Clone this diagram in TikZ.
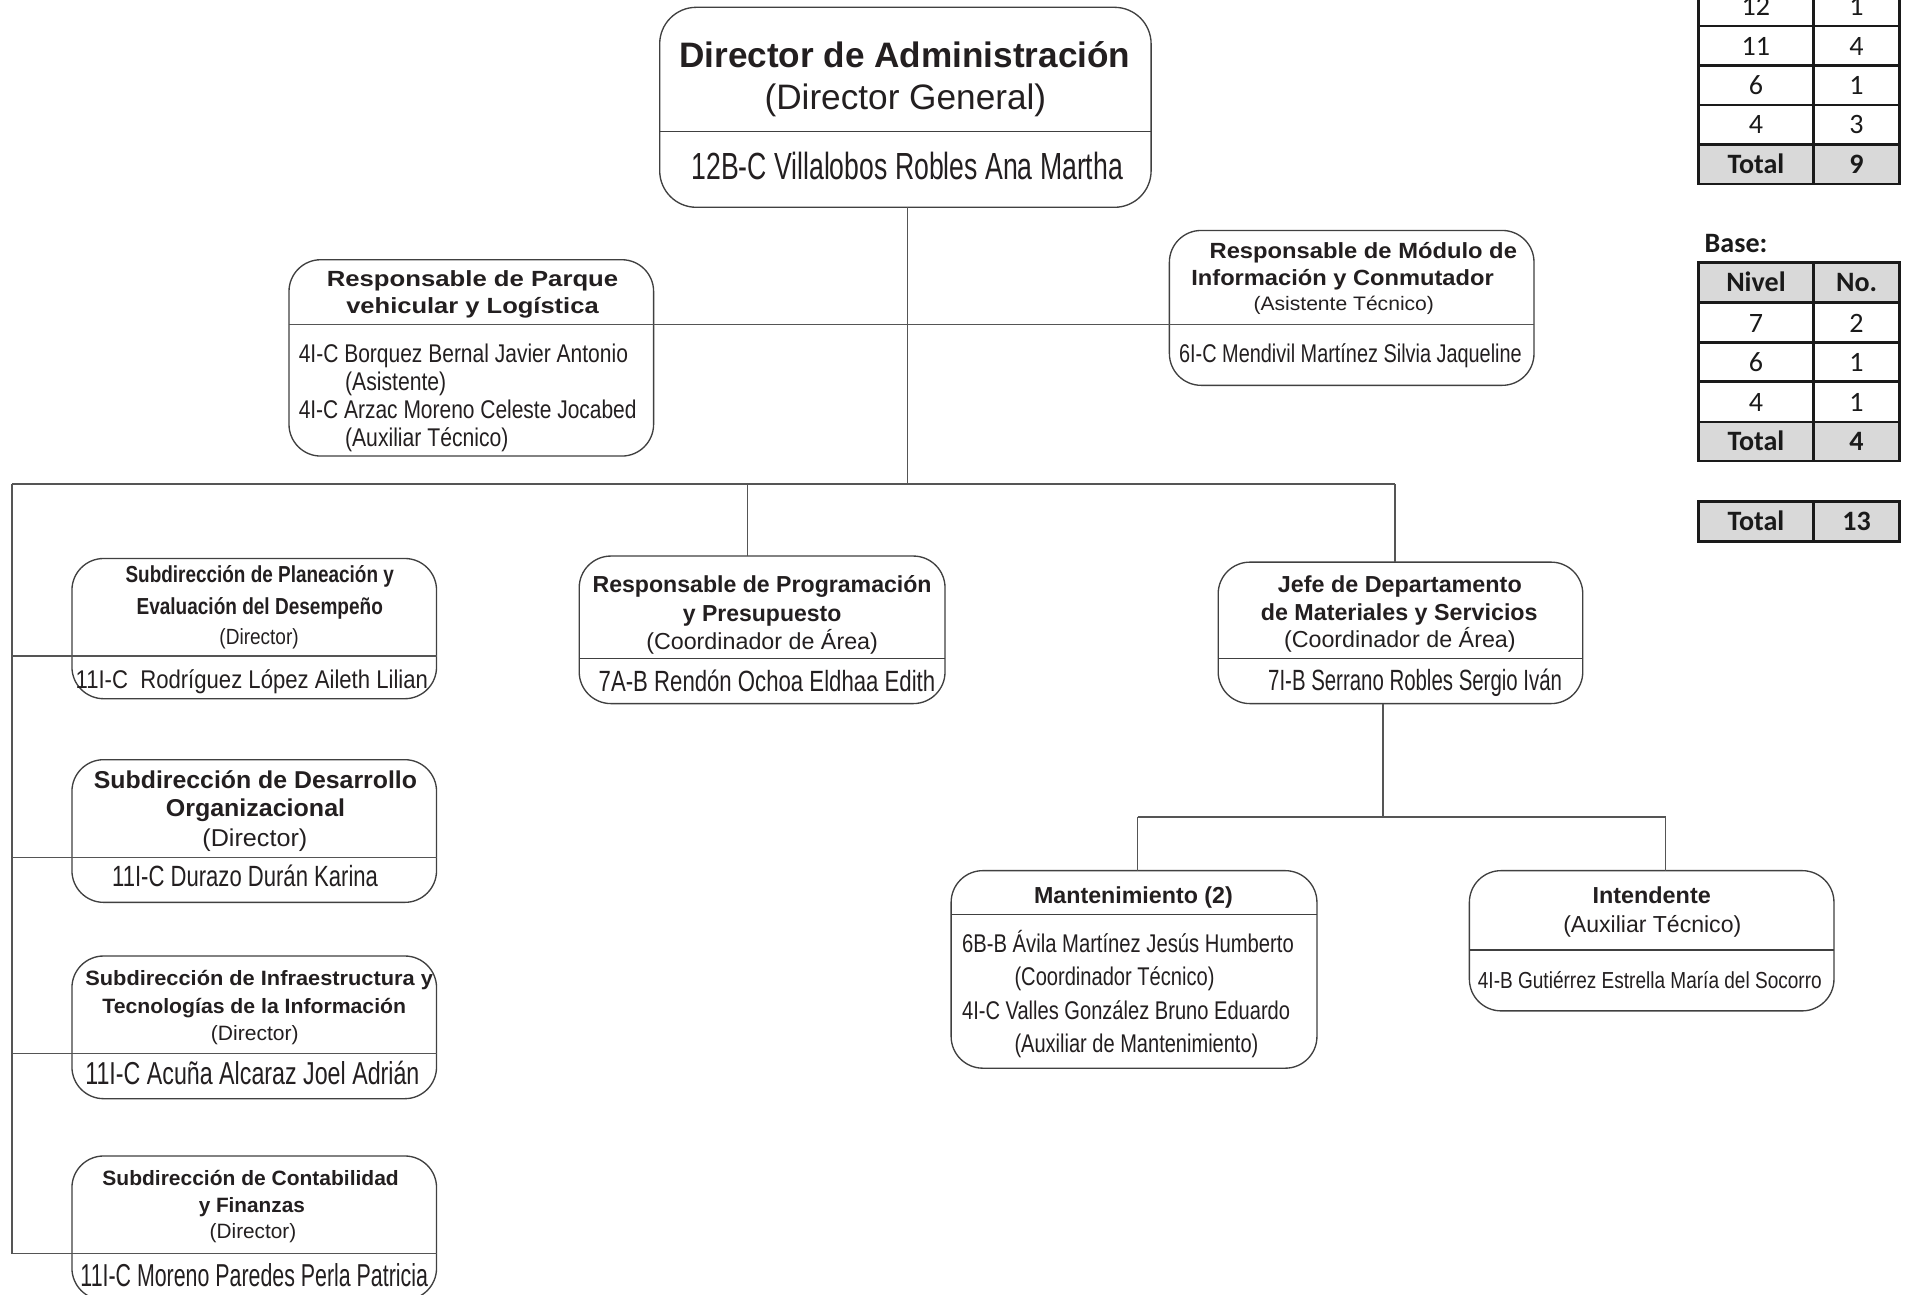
\documentclass[tikz,border=0pt]{standalone}
\usepackage{fontspec}
\usepackage{graphicx}
\setmainfont{Liberation Sans}
\newfontfamily\tabfont{Carlito}
\definecolor{ink}{HTML}{231F20}
\definecolor{edge}{HTML}{404040}
\definecolor{wire}{HTML}{555555}
\definecolor{cellgray}{HTML}{D9D9D9}
\definecolor{tline}{HTML}{1A1A1A}
\newcommand{\Treg}[3]{{\fontsize{#1}{#1}\selectfont\resizebox{#2pt}{\height}{#3}}}
\newcommand{\Tbold}[3]{{\fontsize{#1}{#1}\selectfont\bfseries\resizebox{#2pt}{\height}{#3}}}
\newcommand{\Ttab}[2]{{\tabfont\fontsize{23}{23}\selectfont #1#2}}
\begin{document}
\begin{tikzpicture}[x=1pt,y=-1pt,
  box/.style={draw=edge,line width=1.1pt,rounded corners=26pt,inner sep=0pt,outer sep=0pt},
  conn/.style={draw=wire,line width=1.2pt},
  divl/.style={draw=edge,line width=1.1pt},
  txt/.style={inner sep=0pt,outer sep=0pt,text=ink},
  tbl/.style={draw=tline,line width=2.2pt},
  cell/.style={inner sep=0pt,outer sep=0pt,text=tline,anchor=base}]
\path[use as bounding box] (0,0) rectangle (1568,1062);
\clip (0,0) rectangle (1568,1062);
\fill[white] (0,0) rectangle (1568,1062);

% ---------- boxes ----------
\node[box,rounded corners=30pt,minimum width=403pt,minimum height=164pt] (dir) at (742.5,88) {};
\node[box,minimum width=299pt,minimum height=161pt] (park) at (386.5,293.5) {};
\node[box,minimum width=299pt,minimum height=127pt] (mod) at (1108.5,252.5) {};
\node[box,minimum width=299pt,minimum height=115pt] (plan) at (208.5,515.5) {};
\node[box,minimum width=299pt,minimum height=117pt] (desa) at (208.5,681.5) {};
\node[box,minimum width=299pt,minimum height=117pt] (infra) at (208.5,842.5) {};
\node[box,minimum width=299pt,minimum height=118pt] (cont) at (208.5,1007) {};
\node[box,minimum width=300pt,minimum height=121pt] (prog) at (625,516.5) {};
\node[box,minimum width=299pt,minimum height=116pt] (jefe) at (1148.5,519) {};
\node[box,minimum width=300pt,minimum height=162pt] (mant) at (930,795) {};
\node[box,minimum width=299pt,minimum height=115pt] (int) at (1354.5,771.5) {};

% ---------- dividers ----------
\draw[divl] (dir.west |- 0,108) -- (dir.east |- 0,108);
\draw[divl] (prog.west |- 0,540) -- (prog.east |- 0,540);
\draw[divl] (jefe.west |- 0,540) -- (jefe.east |- 0,540);
\draw[divl] (mant.west |- 0,750) -- (mant.east |- 0,750);
\draw[divl] (int.west |- 0,779) -- (int.east |- 0,779);

% ---------- connectors ----------
\coordinate (hmid) at (744,266.3);
\coordinate (busL) at (10,397);
\coordinate (busP) at (613,397);
\coordinate (busC) at (744,397);
\coordinate (busR) at (1144,397);
\coordinate (jdown) at (1134,670);
\coordinate (subL) at (933,670);
\coordinate (subR) at (1366,670);
\draw[conn] (dir.south -| busC) -- (busC);
\draw[conn] (park.west |- hmid) -- (mod.east |- hmid);
\draw[conn] (busL) -- (busR);
\draw[conn] (busL) -- (busL |- 0,1028);
\draw[conn] (busL |- 0,538) -- (plan.east |- 0,538);
\draw[conn] (busL |- 0,703) -- (desa.east |- 0,703);
\draw[conn] (busL |- 0,864) -- (infra.east |- 0,864);
\draw[conn] (busL |- 0,1028) -- (cont.east |- 0,1028);
\draw[conn] (busP) -- (busP |- prog.north);
\draw[conn] (busR) -- (busR |- jefe.north);
\draw[conn] (jefe.south -| jdown) -- (jdown);
\draw[conn] (subL) -- (subR);
\draw[conn] (subL) -- (subL |- mant.north);
\draw[conn] (subR) -- (subR |- int.north);

% ---------- texts ----------
% Director
\node[txt,anchor=base] (d1) at (742,55) {\Tbold{29}{370}{Director de Administración}};
\node[txt,anchor=base] (d2) at (742.5,90) {\Treg{29}{231}{(Director General)}};
\node[txt,anchor=base] (d3) at (744,147) {\Treg{31}{354}{12B-C Villalobos Robles Ana Martha}};
% Parque
\node[txt,anchor=base] (p1) at (387.5,235) {\Tbold{18}{239}{Responsable de Parque}};
\node[txt,anchor=base] (p2) at (387.5,257) {\Tbold{18}{207}{vehicular y Logística}};
\node[txt,anchor=base west] (p3) at (245,297) {\Treg{21}{270}{4I-C Borquez Bernal Javier Antonio}};
\node[txt,anchor=base west] (p4) at (283,320) {\Treg{21}{83}{(Asistente)}};
\node[txt,anchor=base west] (p5) at (245,343) {\Treg{21}{277}{4I-C Arzac Moreno Celeste Jocabed}};
\node[txt,anchor=base west] (p6) at (283,366) {\Treg{21}{134}{(Auxiliar Técnico)}};
% Modulo
\node[txt,anchor=base] (m1) at (1118,212) {\Tbold{18}{252}{Responsable de Módulo de}};
\node[txt,anchor=base] (m2) at (1101,234) {\Tbold{18}{248}{Información y Conmutador}};
\node[txt,anchor=base] (m3) at (1102,255) {\Treg{16}{148}{(Asistente Técnico)}};
\node[txt,anchor=base] (m4) at (1107.5,297) {\Treg{21}{281}{6I-C Mendivil Martínez Silvia Jaqueline}};
% Planeacion
\node[txt,anchor=base] (pl1) at (213,478) {\Tbold{19}{220}{Subdirección de Planeación y}};
\node[txt,anchor=base] (pl2) at (213,504) {\Tbold{19}{202}{Evaluación del Desempeño}};
\node[txt,anchor=base] (pl3) at (212.5,528.5) {\Treg{18}{65}{(Director)}};
\node[txt,anchor=base] (pl4) at (206.5,565) {\Treg{21}{289}{11I-C\ \ Rodríguez López Aileth Lilian}};
% Desarrollo
\node[txt,anchor=base] (de1) at (209.5,647) {\Tbold{20}{265}{Subdirección de Desarrollo}};
\node[txt,anchor=base] (de2) at (209.5,670) {\Tbold{20}{147}{Organizacional}};
\node[txt,anchor=base] (de3) at (209,694) {\Treg{20}{86}{(Director)}};
\node[txt,anchor=base] (de4) at (201,727) {\Treg{24}{218}{11I-C Durazo Durán Karina}};
% Infraestructura
\node[txt,anchor=base] (in1) at (212.5,808) {\Tbold{17}{285}{Subdirección de Infraestructura y}};
\node[txt,anchor=base] (in2) at (208.5,831) {\Tbold{17}{249}{Tecnologías de la Información}};
\node[txt,anchor=base] (in3) at (209,853) {\Treg{17}{72}{(Director)}};
\node[txt,anchor=base] (in4) at (207,889) {\Treg{26}{274}{11I-C Acuña Alcaraz Joel Adrián}};
% Contabilidad
\node[txt,anchor=base] (co1) at (205.5,972) {\Tbold{17}{243}{Subdirección de Contabilidad}};
\node[txt,anchor=base] (co2) at (206.5,994) {\Tbold{17}{87}{y Finanzas}};
\node[txt,anchor=base] (co3) at (207.5,1016) {\Treg{17}{71}{(Director)}};
\node[txt,anchor=base] (co4) at (208.5,1055) {\Treg{26}{285}{11I-C Moreno Paredes Perla Patricia}};
% Programacion
\node[txt,anchor=base] (pr1) at (625,486) {\Tbold{19}{278}{Responsable de Programación}};
\node[txt,anchor=base] (pr2) at (625,510) {\Tbold{19}{130}{y Presupuesto}};
\node[txt,anchor=base] (pr3) at (625,533) {\Treg{19}{190}{(Coordinador de Área)}};
\node[txt,anchor=base] (pr4) at (629,567) {\Treg{24}{276}{7A-B Rendón Ochoa Eldhaa Edith}};
% Jefe
\node[txt,anchor=base] (j1) at (1148,486) {\Tbold{19}{200}{Jefe de Departamento}};
\node[txt,anchor=base] (j2) at (1147.5,509) {\Tbold{19}{227}{de Materiales y Servicios}};
\node[txt,anchor=base] (j3) at (1148,531) {\Treg{19}{190}{(Coordinador de Área)}};
\node[txt,anchor=base] (j4) at (1160.5,566) {\Treg{24}{241}{7I-B Serrano Robles Sergio Iván}};
% Mantenimiento
\node[txt,anchor=base] (mt1) at (929.5,741) {\Tbold{19}{163}{Mantenimiento (2)}};
\node[txt,anchor=base west] (mt2) at (789,781) {\Treg{21}{272}{6B-B Ávila Martínez Jesús Humberto}};
\node[txt,anchor=base west] (mt3) at (832,808) {\Treg{21}{164}{(Coordinador Técnico)}};
\node[txt,anchor=base west] (mt4) at (789,836) {\Treg{21}{269}{4I-C Valles González Bruno Eduardo}};
\node[txt,anchor=base west] (mt5) at (832,863) {\Treg{21}{200}{(Auxiliar de Mantenimiento)}};
% Intendente
\node[txt,anchor=base] (it1) at (1354.5,741) {\Tbold{19}{97}{Intendente}};
\node[txt,anchor=base] (it2) at (1355,765) {\Treg{19}{146}{(Auxiliar Técnico)}};
\node[txt,anchor=base] (it3) at (1353,811) {\Treg{19}{282}{4I-B Gutiérrez Estrella María del Socorro}};

% ---------- tables ----------
% top table
\fill[cellgray] (1393,118.6) rectangle (1558,151);
\draw[tbl] (1393,-11) rectangle (1558,151);
\draw[tbl] (1393,21.4) -- (1558,21.4) (1393,53.8) -- (1558,53.8)
  (1393,86.2) -- (1558,86.2) (1393,118.6) -- (1558,118.6) (1487,-11) -- (1487,151);
\node[cell] (a1) at (1440,12.4) {\Ttab{}{12}};
\node[cell] (a2) at (1522.5,12.4) {\Ttab{}{1}};
\node[cell] (b1) at (1440,45.4) {\Ttab{}{11}};
\node[cell] (b2) at (1522.5,45.4) {\Ttab{}{4}};
\node[cell] (c1) at (1440,77.4) {\Ttab{}{6}};
\node[cell] (c2) at (1522.5,77.4) {\Ttab{}{1}};
\node[cell] (e1) at (1440,109.4) {\Ttab{}{4}};
\node[cell] (e2) at (1522.5,109.4) {\Ttab{}{3}};
\node[cell] (f1) at (1440,142.4) {\Ttab{\bfseries}{Total}};
\node[cell] (f2) at (1522.5,142.4) {\Ttab{\bfseries}{9}};
% Base
\node[cell,anchor=base west] (base) at (1398,207.4) {\Ttab{\bfseries}{Base:}};
\fill[cellgray] (1393,215) rectangle (1558,248);
\fill[cellgray] (1393,346) rectangle (1558,378);
\draw[tbl] (1393,215) rectangle (1558,378);
\draw[tbl] (1393,248) -- (1558,248) (1393,281) -- (1558,281)
  (1393,313) -- (1558,313) (1393,346) -- (1558,346) (1487,215) -- (1487,378);
\node[cell] (g1) at (1440,239.4) {\Ttab{\bfseries}{Nivel}};
\node[cell] (g2) at (1522.5,239.4) {\Ttab{\bfseries}{No.}};
\node[cell] (h1) at (1440,272.4) {\Ttab{}{7}};
\node[cell] (h2) at (1522.5,272.4) {\Ttab{}{2}};
\node[cell] (k1) at (1440,304.4) {\Ttab{}{6}};
\node[cell] (k2) at (1522.5,304.4) {\Ttab{}{1}};
\node[cell] (l1) at (1440,337.4) {\Ttab{}{4}};
\node[cell] (l2) at (1522.5,337.4) {\Ttab{}{1}};
\node[cell] (n1) at (1440,369.4) {\Ttab{\bfseries}{Total}};
\node[cell] (n2) at (1522.5,369.4) {\Ttab{\bfseries}{4}};
% grand total
\fill[cellgray] (1393,411) rectangle (1558,444);
\draw[tbl] (1393,411) rectangle (1558,444) (1487,411) -- (1487,444);
\node[cell] (t1) at (1440,434.9) {\Ttab{\bfseries}{Total}};
\node[cell] (t2) at (1522.5,434.9) {\Ttab{\bfseries}{13}};
\end{tikzpicture}
\end{document}
